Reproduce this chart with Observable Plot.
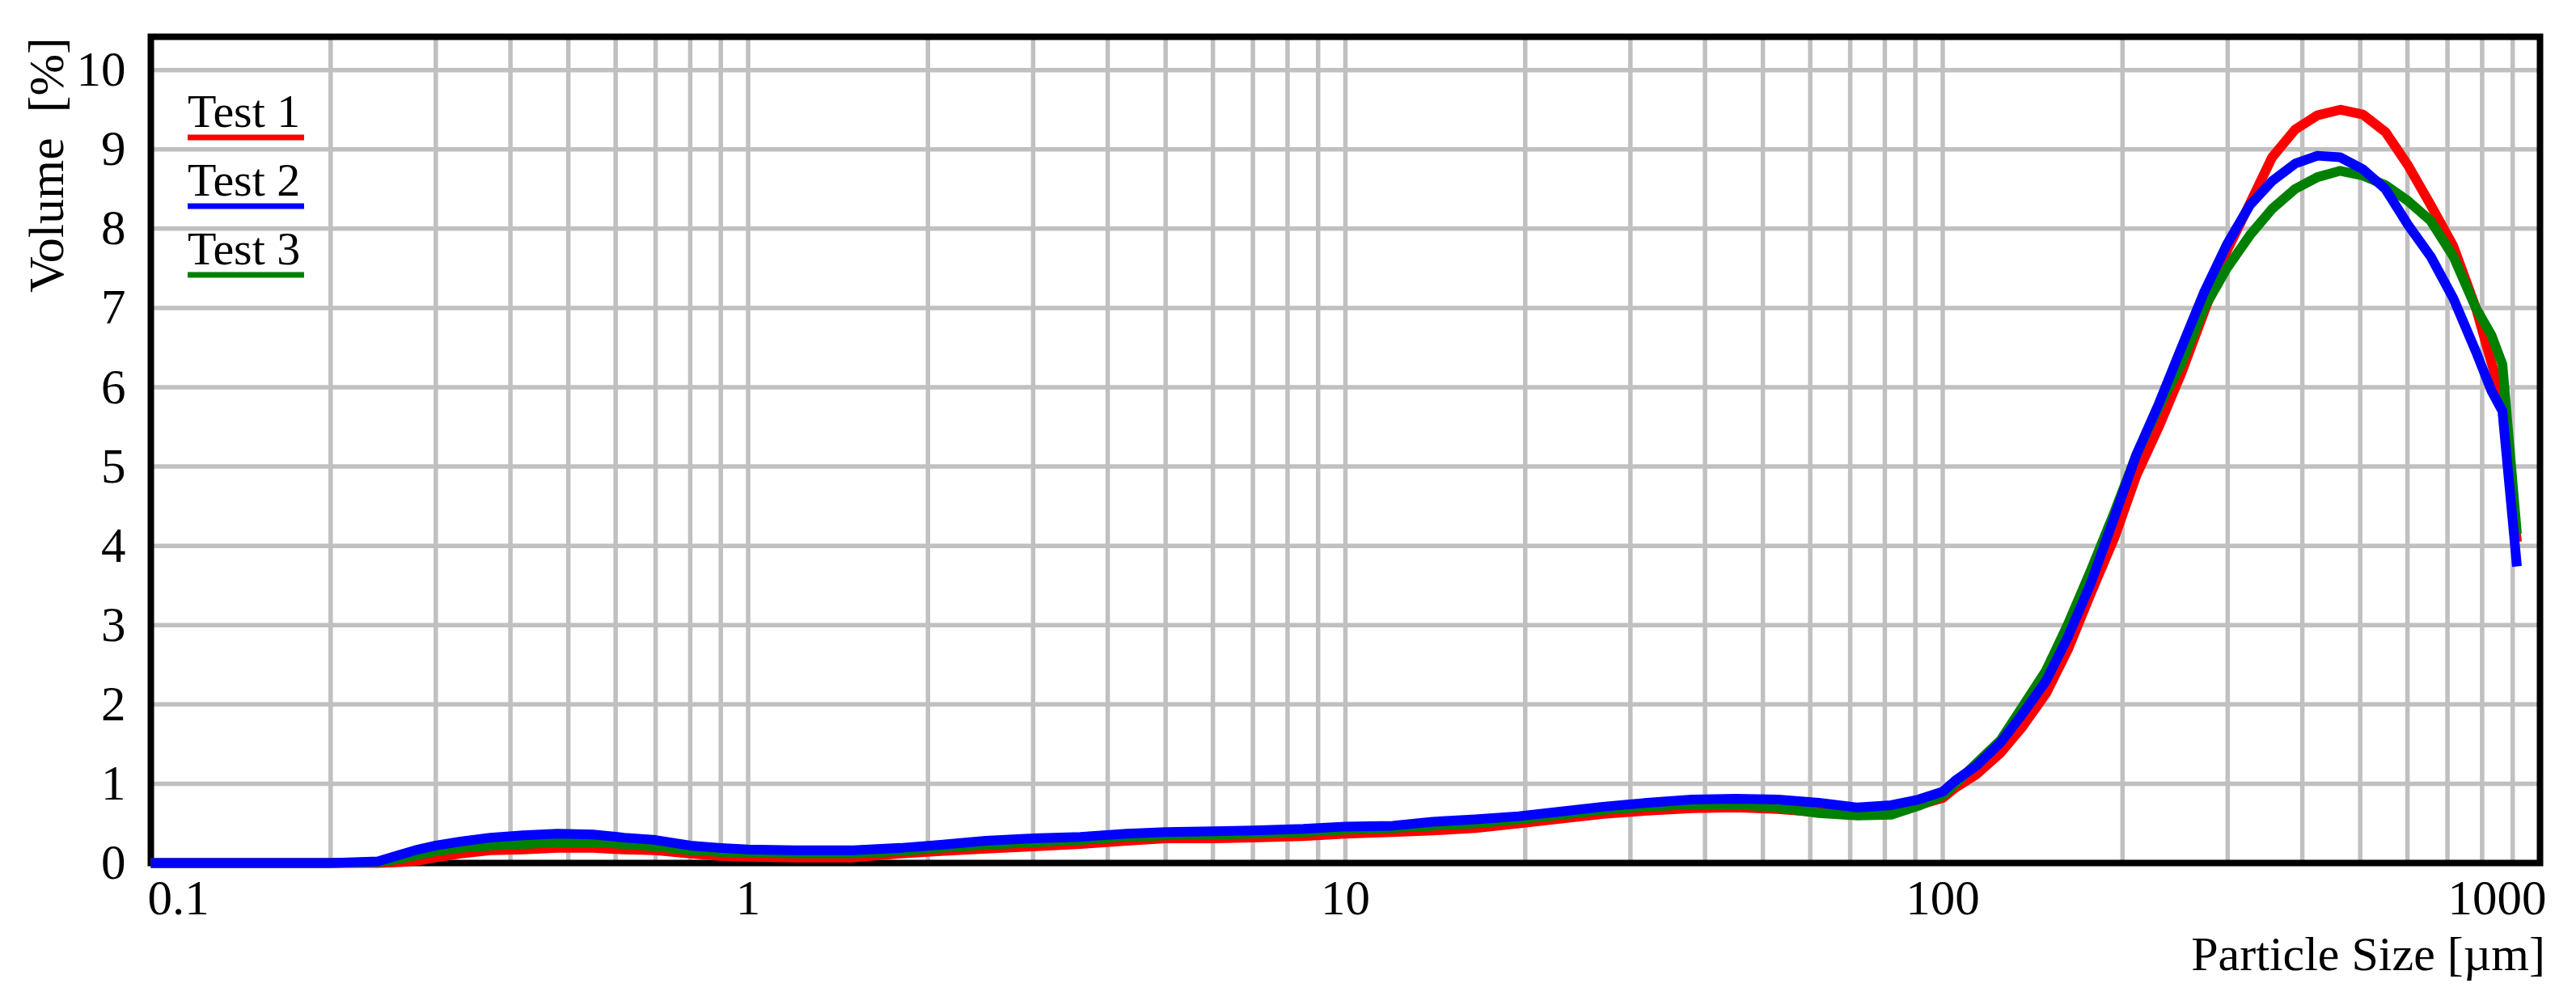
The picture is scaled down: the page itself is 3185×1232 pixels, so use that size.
<!DOCTYPE html>
<html>
<head>
<meta charset="utf-8">
<script src="https://cdn.jsdelivr.net/npm/d3@7"></script>
<script src="https://cdn.jsdelivr.net/npm/@observablehq/plot@0.6"></script>
<style>
html, body { margin: 0; padding: 0; background: #ffffff; }
#chart { width: 3185px; height: 1232px; }
</style>
</head>
<body>
<div id="chart"></div>
<script>
// Particle size classes [µm]
const sizes = [0.1, 0.15, 0.2, 0.24, 0.26, 0.28, 0.3, 0.33, 0.37, 0.42,
  0.48, 0.55, 0.62, 0.7, 0.8, 0.9, 1.0, 1.2, 1.5, 1.8,
  2.1, 2.5, 3, 3.6, 4.3, 5, 6, 7, 8.5, 10,
  12, 14, 16.5, 19.5, 23, 27, 32, 38, 45, 53,
  62, 72, 82, 91, 100, 105, 114, 125, 136, 149,
  162, 177, 194, 211, 230, 251, 274, 299, 327, 356,
  389, 424, 463, 505, 551, 601, 656, 716, 781, 830,
  865, 915];

// Volume [%]
const test1 = [0, 0, 0, 0, 0.01, 0.03, 0.07, 0.12, 0.16, 0.17,
  0.19, 0.19, 0.17, 0.16, 0.12, 0.09, 0.08, 0.07, 0.07, 0.12,
  0.15, 0.18, 0.21, 0.24, 0.28, 0.31, 0.31, 0.32, 0.34, 0.37,
  0.39, 0.41, 0.44, 0.50, 0.56, 0.62, 0.66, 0.69, 0.70, 0.68,
  0.64, 0.63, 0.66, 0.73, 0.82, 0.95, 1.12, 1.39, 1.72, 2.14,
  2.69, 3.40, 4.11, 4.89, 5.50, 6.18, 6.95, 7.72, 8.32, 8.90,
  9.25, 9.43, 9.50, 9.44, 9.22, 8.80, 8.30, 7.78, 7.00, 6.30,
  5.85, 4.05];

const test2 = [0, 0, 0, 0.02, 0.10, 0.17, 0.22, 0.27, 0.32, 0.35,
  0.37, 0.36, 0.32, 0.29, 0.22, 0.19, 0.17, 0.16, 0.16, 0.19,
  0.23, 0.28, 0.31, 0.33, 0.37, 0.39, 0.40, 0.41, 0.43, 0.46,
  0.47, 0.52, 0.55, 0.59, 0.65, 0.71, 0.76, 0.80, 0.81, 0.80,
  0.76, 0.70, 0.73, 0.80, 0.90, 1.04, 1.23, 1.52, 1.88, 2.30,
  2.85, 3.53, 4.37, 5.15, 5.79, 6.50, 7.20, 7.80, 8.30, 8.60,
  8.82, 8.92, 8.90, 8.75, 8.50, 8.05, 7.65, 7.12, 6.45, 5.95,
  5.70, 3.74];

const test3 = [0, 0, 0, 0.01, 0.05, 0.10, 0.15, 0.19, 0.22, 0.24,
  0.26, 0.26, 0.24, 0.21, 0.16, 0.14, 0.13, 0.12, 0.12, 0.15,
  0.19, 0.23, 0.26, 0.29, 0.33, 0.35, 0.36, 0.37, 0.39, 0.42,
  0.44, 0.47, 0.50, 0.55, 0.61, 0.67, 0.71, 0.74, 0.74, 0.70,
  0.63, 0.60, 0.61, 0.72, 0.85, 1.00, 1.26, 1.55, 1.97, 2.43,
  3.01, 3.69, 4.43, 5.15, 5.75, 6.30, 7.00, 7.50, 7.92, 8.25,
  8.50, 8.65, 8.73, 8.67, 8.55, 8.35, 8.10, 7.65, 7.00, 6.65,
  6.29, 4.15];

const seriesNames = ["Test 1", "Test 2", "Test 3"];
const seriesColors = ["#ff0000", "#0000ff", "#008000"];

const xLabelTicksMid = [1, 10, 100];
const xLabelTickFirst = [0.1];
const xLabelTickLast = [1000];
const xGridTicks = [0.2, 0.3, 0.4, 0.5, 0.6, 0.7, 0.8, 0.9,
  1, 2, 3, 4, 5, 6, 7, 8, 9,
  10, 20, 30, 40, 50, 60, 70, 80, 90,
  100, 200, 300, 400, 500, 600, 700, 800, 900];
const yTicks = [0, 1, 2, 3, 4, 5, 6, 7, 8, 9, 10];
const yGridTicks = [1, 2, 3, 4, 5, 6, 7, 8, 9, 10];

const xTitle = "Particle Size [µm]";
const yTitle = "Volume\u00A0\u00A0[%]";

const toRows = (vals) => sizes.map((s, i) => ({size: s, volume: vals[i]}));
const seriesData = [test1, test2, test3].map(toRows);

const FONT = "'Liberation Serif', 'Times New Roman', serif";
const FS = 61;

const axisCommon = {tickSize: 0, tickPadding: 20, fontSize: FS, label: null, tickFormat: d => String(d)};

const lineOpts = (i) => ({x: "size", y: "volume", stroke: seriesColors[i], strokeWidth: 12,
  strokeLinejoin: "round", strokeLinecap: "butt"});

const svg = Plot.plot({
  width: 3185,
  height: 1232,
  marginLeft: 186,
  marginRight: 45,
  marginTop: 45,
  marginBottom: 165,
  style: {fontFamily: FONT, fontSize: FS + "px", background: "#ffffff", color: "#000000"},
  x: {type: "log", domain: [0.1, 1000]},
  y: {domain: [0, 10.42]},
  marks: [
    Plot.gridX(xGridTicks, {stroke: "#c0c0c0", strokeOpacity: 1, strokeWidth: 5.5}),
    Plot.gridY(yGridTicks, {stroke: "#c0c0c0", strokeOpacity: 1, strokeWidth: 5.5}),
    Plot.frame({stroke: "#000000", strokeWidth: 8}),
    Plot.axisX(xLabelTicksMid, axisCommon),
    Plot.axisX(xLabelTickFirst, {...axisCommon, textAnchor: "start", dx: -4}),
    Plot.axisX(xLabelTickLast, {...axisCommon, textAnchor: "end", dx: 8}),
    Plot.axisY(yTicks, {tickSize: 0, tickPadding: 31, fontSize: FS, label: null, tickFormat: d => String(d)}),
    Plot.line(seriesData[0], lineOpts(0)),
    Plot.line(seriesData[2], lineOpts(2)),
    Plot.line(seriesData[1], lineOpts(1))
  ]
});

const s = d3.select(svg);
// y title (rotated, near top-left)
s.append("text")
  .attr("transform", "translate(78,362) rotate(-90)")
  .attr("text-anchor", "start")
  .attr("font-family", FONT)
  .attr("font-size", 62)
  .attr("fill", "#000")
  .text(yTitle);
// x title (right-aligned under the axis)
s.append("text")
  .attr("x", 3147)
  .attr("y", 1200)
  .attr("text-anchor", "end")
  .attr("font-family", FONT)
  .attr("font-size", 60)
  .attr("fill", "#000")
  .text(xTitle);
// legend
const legend = s.append("g").attr("font-family", FONT).attr("font-size", 58).attr("text-anchor", "start");
seriesNames.forEach((name, i) => {
  const baseY = 157 + i * 85;
  legend.append("text").attr("x", 232).attr("y", baseY).attr("fill", "#000").text(name);
  legend.append("line").attr("x1", 232).attr("x2", 376)
    .attr("y1", baseY + 13).attr("y2", baseY + 13)
    .attr("stroke", seriesColors[i]).attr("stroke-width", 7);
});

document.getElementById("chart").appendChild(svg);
</script>
</body>
</html>
